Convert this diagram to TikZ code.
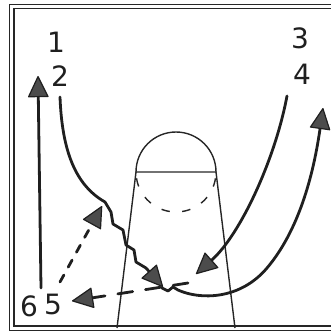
\documentclass[tikz,border=0pt]{standalone}
\usepackage{fontspec}
\setmainfont{DejaVu Sans}
\usetikzlibrary{arrows.meta}
\begin{document}
\begin{tikzpicture}[x=1pt,y=-1pt,
  ink/.style={draw=black!88, line width=2.8pt, line cap=round, line join=round},
  thinline/.style={draw=black!85, line width=1.4pt},
  tipA/.style={-{Triangle[length=22pt,width=21pt,fill=black!70,line width=1.2pt,round]}},
  dashA/.style={dash pattern=on 15pt off 13pt},
  dashB/.style={dash pattern=on 8pt off 9pt},
  lbl/.style={inner sep=0pt, font=\fontsize{28}{28}\selectfont, text=black!88}]
\useasboundingbox (0,0) rectangle (331,332);
% frame
\draw[thinline] (9.5,4.5) rectangle (345,330.5);
\draw[thinline] (14,8.5) rectangle (345,326);
% lane
\coordinate (ftl) at (136,172);
\coordinate (ftr) at (216,172);
\coordinate (ftc) at (176,172);
\coordinate (bl) at (117,328);
\coordinate (br) at (235,328);
\draw[thinline] (bl) -- (ftl) -- (ftr) -- (br);
\draw[thinline] (ftl) arc[start angle=180,end angle=360,radius=40];
\draw[thinline, dash pattern=on 8.5pt off 12.4pt] ([shift={(171:40)}]ftc) arc[start angle=171,end angle=9,radius=40];
% labels
\node[lbl] (p1) at (56,42) {1};
\node[lbl] (p2) at (60,76) {2};
\node[lbl] (p3) at (300,38) {3};
\node[lbl] (p4) at (302,74) {4};
\node[lbl] (p6) at (29,306) {6};
\node[lbl] (p5) at (53,304) {5};
% path points
\coordinate (a1s) at (41,288);
\coordinate (a1e) at (38,76);
\coordinate (c2s) at (60,97);
\coordinate (c2e) at (163,287);
\coordinate (c5s) at (162,288);
\coordinate (c5e) at (323,108);
\coordinate (c4s) at (287,96);
\coordinate (c4e) at (196,274);
\coordinate (d1s) at (188,283);
\coordinate (d1e) at (72,301);
\coordinate (d2s) at (60,282);
\coordinate (d2e) at (102,206);
% connectors
\draw[ink,tipA] (a1s) -- (a1e);
\draw[ink,tipA] (c2s) .. controls (62,150) and (75,185) .. (105,202) -- (111,212) -- (113,224) -- (123,230) -- (126,245) -- (134,250) -- (136,262) -- (146,268) -- (c2e);
\draw[ink,tipA] (c5s) -- (168,291) -- (173,287) -- (178,290) .. controls (200,300) and (240,300) .. (267,268) .. controls (295,235) and (312,185) .. (c5e);
\draw[ink,tipA] (c4s) .. controls (275,160) and (240,235) .. (c4e);
\draw[ink,dashA,tipA] (d1s) -- (d1e);
\draw[ink,dashB,tipA] (d2s) -- (d2e);
\end{tikzpicture}
\end{document}
